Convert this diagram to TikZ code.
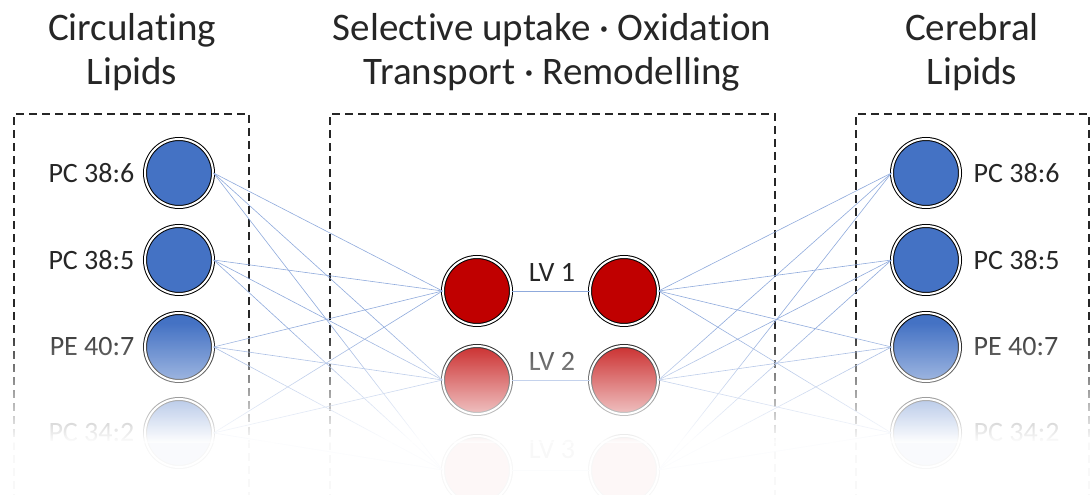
\documentclass[tikz,border=0pt]{standalone}
\usepackage{fontspec}
\setmainfont{Carlito}[Ligatures=NoCommon]
\usepackage{tikz}
\usetikzlibrary{positioning}
\usetikzlibrary{fadings}
\usepackage{xcolor}
\definecolor{lipidblue}{HTML}{4472C4}
\definecolor{lvred}{HTML}{C00000}
\definecolor{linkblue}{HTML}{8FAADC}
\definecolor{txtgray}{HTML}{262626}
\tikzfading[name=fadedown, top color=transparent!100, middle color=transparent!32, bottom color=transparent!0]

\begin{document}
\begin{tikzpicture}[x=1pt,y=1pt,
  lipid/.style={circle, draw=black, double=white, double distance=2pt, line width=1pt, fill=lipidblue, minimum size=68pt, inner sep=0pt},
  latent/.style={lipid, fill=lvred},
  lbl/.style={font=\fontsize{28}{30}\selectfont, text=txtgray, inner sep=0pt},
  ttl/.style={font=\fontsize{39}{44}\selectfont, text=txtgray, align=center},
  link/.style={linkblue, line width=0.6pt},
  box/.style={black!85, line width=2pt, dash pattern=on 8pt off 5pt}]
\useasboundingbox (0,0) rectangle (1090,495);
\clip (0,0) rectangle (1090,495);

\draw (132,443) node[ttl] (tleft) {Circulating\\Lipids};
\draw (552,443) node[ttl] (tmid) {Selective uptake · Oxidation\\Transport · Remodelling};
\draw (972,443) node[ttl] (tright) {Cerebral\\Lipids};

% dashed boxes
\draw[box] (14,-20) -- (14,381) -- (249,381) -- (249,-20);
\draw[box] (330,-20) -- (330,381) -- (775,381) -- (775,-20);
\draw[box] (856,-20) -- (856,381) -- (1089,381) -- (1089,-20);

% circulating lipids
\node[lipid] (l1) at (179,322) {};
\node[lipid] (l2) at (179,235) {};
\node[lipid] (l3) at (179,148) {};
\node[lipid] (l4) at (179,62) {};
\node[lbl, left=10pt of l1] (tl1) {PC 38:6};
\node[lbl, left=10pt of l2] (tl2) {PC 38:5};
\node[lbl, left=10pt of l3] (tl3) {PE 40:7};
\node[lbl, left=10pt of l4] (tl4) {PC 34:2};

% latent variables
\node[latent] (a1) at (477,204) {};
\node[latent] (b1) at (624,204) {};
\node[latent] (a2) at (477,115) {};
\node[latent] (b2) at (624,115) {};
\node[latent] (a3) at (477,25) {};
\node[latent] (b3) at (624,25) {};
\draw (552,223) node[lbl] (lv1) {LV 1};
\draw (552,134) node[lbl] (lv2) {LV 2};
\draw (552,45) node[lbl] (lv3) {LV 3};

% cerebral lipids
\node[lipid] (r1) at (926,322) {};
\node[lipid] (r2) at (926,235) {};
\node[lipid] (r3) at (926,148) {};
\node[lipid] (r4) at (926,62) {};
\node[lbl, right=13pt of r1] (tr1) {PC 38:6};
\node[lbl, right=13pt of r2] (tr2) {PC 38:5};
\node[lbl, right=13pt of r3] (tr3) {PE 40:7};
\node[lbl, right=13pt of r4] (tr4) {PC 34:2};

\draw[link] (l1.east)--(a1.west);
\draw[link] (l1.east)--(a2.west);
\draw[link] (l1.east)--(a3.west);
\draw[link] (l2.east)--(a1.west);
\draw[link] (l2.east)--(a2.west);
\draw[link] (l2.east)--(a3.west);
\draw[link] (l3.east)--(a1.west);
\draw[link] (l3.east)--(a2.west);
\draw[link] (l3.east)--(a3.west);
\draw[link] (l4.east)--(a1.west);
\draw[link] (l4.east)--(a2.west);
\draw[link] (l4.east)--(a3.west);

\draw[link] (a1.east)--(b1.west);
\draw[link] (a2.east)--(b2.west);
\draw[link] (a3.east)--(b3.west);

\draw[link] (b1.east)--(r1.west);
\draw[link] (b1.east)--(r2.west);
\draw[link] (b1.east)--(r3.west);
\draw[link] (b1.east)--(r4.west);
\draw[link] (b2.east)--(r1.west);
\draw[link] (b2.east)--(r2.west);
\draw[link] (b2.east)--(r3.west);
\draw[link] (b2.east)--(r4.west);
\draw[link] (b3.east)--(r1.west);
\draw[link] (b3.east)--(r2.west);
\draw[link] (b3.east)--(r3.west);
\draw[link] (b3.east)--(r4.west);

% fade out towards the bottom
\fill[white, path fading=fadedown] (-5,52) rectangle (1095,172);
\fill[white, opacity=0.97] (-5,-5) rectangle (1095,52);

\end{tikzpicture}
\end{document}
